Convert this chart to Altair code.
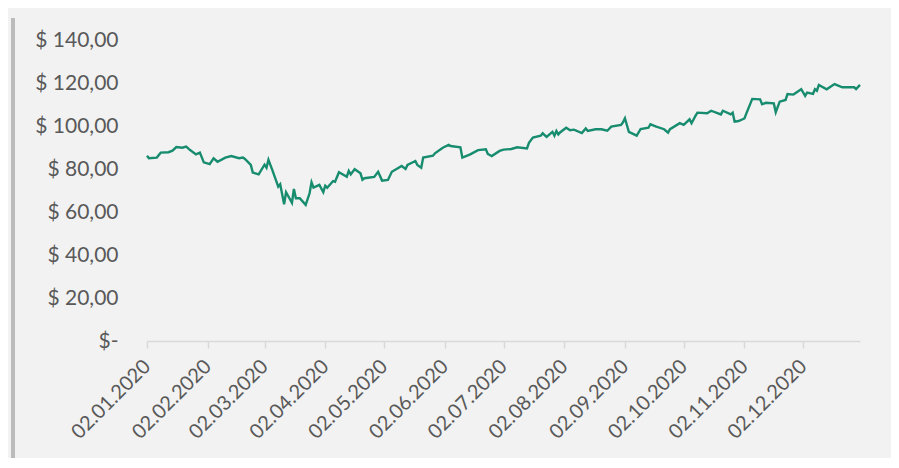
import altair as alt
import pandas as pd

dates = [
    "2020-01-02", "2020-01-03", "2020-01-07", "2020-01-09", "2020-01-13", "2020-01-15",
    "2020-01-17", "2020-01-20", "2020-01-22", "2020-01-24", "2020-01-27", "2020-01-29",
    "2020-01-31", "2020-02-03", "2020-02-05", "2020-02-07", "2020-02-11", "2020-02-14",
    "2020-02-18", "2020-02-20", "2020-02-21", "2020-02-24", "2020-02-25", "2020-02-28",
    "2020-03-02", "2020-03-03", "2020-03-04", "2020-03-06", "2020-03-09", "2020-03-10",
    "2020-03-12", "2020-03-13", "2020-03-16", "2020-03-17", "2020-03-18", "2020-03-20",
    "2020-03-23", "2020-03-25", "2020-03-26", "2020-03-27", "2020-03-30", "2020-04-01",
    "2020-04-02", "2020-04-03", "2020-04-06", "2020-04-07", "2020-04-09", "2020-04-13",
    "2020-04-14", "2020-04-15", "2020-04-17", "2020-04-20", "2020-04-21", "2020-04-22",
    "2020-04-27", "2020-04-29", "2020-05-01", "2020-05-04", "2020-05-06", "2020-05-11",
    "2020-05-13", "2020-05-14", "2020-05-18", "2020-05-19", "2020-05-21", "2020-05-22",
    "2020-05-27", "2020-05-28", "2020-06-01", "2020-06-04", "2020-06-05", "2020-06-10",
    "2020-06-11", "2020-06-15", "2020-06-19", "2020-06-23", "2020-06-24", "2020-06-26",
    "2020-06-30", "2020-07-02", "2020-07-06", "2020-07-09", "2020-07-14", "2020-07-15",
    "2020-07-17", "2020-07-21", "2020-07-22", "2020-07-24", "2020-07-27", "2020-07-28",
    "2020-07-29", "2020-07-30", "2020-07-31", "2020-08-03", "2020-08-05", "2020-08-07",
    "2020-08-11", "2020-08-13", "2020-08-14", "2020-08-18", "2020-08-21", "2020-08-24",
    "2020-08-26", "2020-08-31", "2020-09-01", "2020-09-02", "2020-09-04", "2020-09-08",
    "2020-09-10", "2020-09-14", "2020-09-15", "2020-09-18", "2020-09-22", "2020-09-24",
    "2020-09-25", "2020-09-30", "2020-10-02", "2020-10-05", "2020-10-06", "2020-10-08",
    "2020-10-09", "2020-10-14", "2020-10-16", "2020-10-21", "2020-10-22", "2020-10-26",
    "2020-10-27", "2020-10-28", "2020-10-30", "2020-11-02", "2020-11-03", "2020-11-06",
    "2020-11-10", "2020-11-11", "2020-11-13", "2020-11-17", "2020-11-18", "2020-11-20",
    "2020-11-23", "2020-11-24", "2020-11-27", "2020-12-01", "2020-12-03", "2020-12-04",
    "2020-12-07", "2020-12-08", "2020-12-09", "2020-12-10", "2020-12-14", "2020-12-18",
    "2020-12-22", "2020-12-28", "2020-12-29", "2020-12-31",
]

prices = [
    86.2, 85.0, 85.3, 87.6, 87.8, 88.5,
    90.2, 89.9, 90.4, 88.8, 86.8, 87.6,
    83.1, 82.3, 85.0, 83.4, 85.3, 86.0,
    85.0, 85.3, 84.7, 81.9, 78.3, 77.5,
    82.0, 80.6, 84.3, 79.5, 71.8, 72.9,
    63.6, 69.2, 64.3, 70.7, 66.4, 66.4,
    63.3, 68.7, 73.8, 71.3, 72.6, 69.2,
    72.2, 71.3, 74.4, 74.1, 78.5, 76.4,
    79.1, 77.5, 79.9, 78.0, 75.0, 75.7,
    76.3, 78.7, 74.6, 74.9, 78.7, 81.4,
    80.0, 81.9, 83.7, 81.9, 80.6, 85.3,
    86.2, 87.3, 89.9, 91.2, 90.7, 90.1,
    85.3, 86.8, 88.8, 89.2, 87.0, 86.0,
    88.4, 89.0, 89.3, 90.1, 89.6, 92.2,
    94.6, 95.5, 96.6, 94.9, 97.3, 95.5,
    97.7, 96.1, 97.1, 99.2, 98.0, 98.3,
    96.7, 98.9, 97.7, 98.5, 98.5, 97.8,
    99.7, 100.5, 101.7, 103.6, 97.3, 95.5,
    98.6, 99.2, 100.8, 99.7, 98.5, 96.9,
    98.5, 101.3, 100.5, 103.1, 101.3, 104.7,
    106.2, 105.9, 107.1, 105.4, 107.1, 105.4,
    106.2, 102.0, 102.3, 103.5, 105.9, 112.6,
    112.4, 110.1, 110.8, 110.5, 106.4, 111.3,
    112.1, 114.9, 114.6, 117.1, 114.0, 115.5,
    114.9, 117.1, 116.4, 119.1, 117.1, 119.5,
    118.0, 118.0, 117.2, 119.1,
]

tick_dates = [
    "2020-01-02", "2020-02-02", "2020-03-02", "2020-04-02", "2020-05-02", "2020-06-02",
    "2020-07-02", "2020-08-02", "2020-09-02", "2020-10-02", "2020-11-02", "2020-12-02",
]
y_ticks = [0, 20, 40, 60, 80, 100, 120, 140]

df = pd.DataFrame({"date": dates, "price": prices})


def dt(s):
    y, m, d = (int(p) for p in s.split("-"))
    return alt.DateTime(year=y, month=m, date=d, utc=True)


text_color = "#595959"
font = "Lato"

line = (
    alt.Chart(df)
    .mark_line(color="#178C6E", strokeWidth=2.4, interpolate="linear")
    .encode(
        x=alt.X(
            "date:T",
            scale=alt.Scale(type="utc", domain=[dt("2020-01-02"), dt("2020-12-31")]),
            axis=alt.Axis(
                title=None,
                values=[dt(s) for s in tick_dates],
                labelExpr="utcFormat(datum.value, '%d.%m.%Y')",
                labelAngle=-45,
                labelAlign="right",
                labelBaseline="middle",
                labelFont=font,
                labelFontSize=20,
                labelColor=text_color,
                labelPadding=15,
                labelFlush=False,
                labelOverlap=False,
                domainColor="#D9D9D9",
                domainWidth=1.5,
                tickColor="#D9D9D9",
                tickWidth=1.5,
                tickSize=7,
                grid=False,
            ),
        ),
        y=alt.Y(
            "price:Q",
            scale=alt.Scale(domain=[0, 140], nice=False, zero=True),
            axis=alt.Axis(
                title=None,
                values=y_ticks,
                labelExpr="datum.value == 0 ? '$-' : '$ ' + replace(format(datum.value, '.2f'), '.', ',')",
                labelFont=font,
                labelFontSize=21,
                labelColor=text_color,
                labelPadding=29,
                domain=False,
                ticks=False,
                grid=False,
            ),
        ),
    )
)

shadow = (
    alt.Chart(df)
    .mark_rule(color="#BBBBBB", strokeWidth=3, clip=False)
    .encode(x=alt.value(-134), y=alt.value(-22), y2=alt.value(430))
)

chart = (
    alt.layer(shadow, line)
    .properties(
        width=713,
        height=301,
        background="#F2F2F2",
        padding={"left": 139, "top": 32, "right": 31, "bottom": 117},
        autosize=alt.AutoSizeParams(type="none"),
    )
    .configure_view(stroke=None)
)

chart.save("out.html", embed_options={"renderer": "svg", "actions": False})
